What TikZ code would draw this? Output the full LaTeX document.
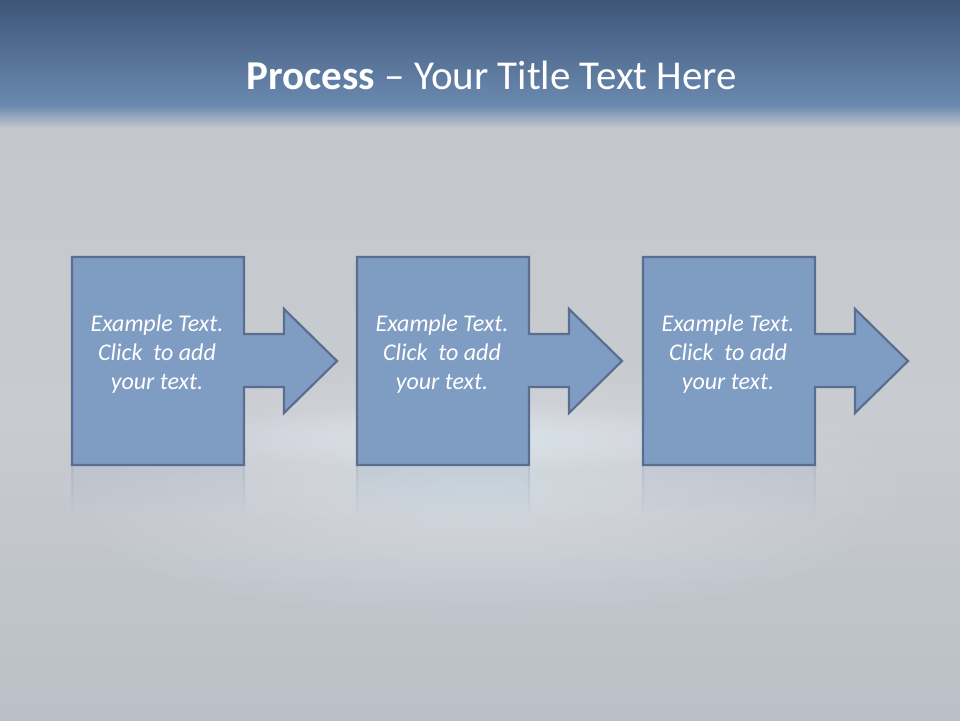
\documentclass[tikz,border=0pt]{standalone}
\usepackage{fontspec}
\setmainfont{Carlito}
\usetikzlibrary{fadings}
\definecolor{topdark}{HTML}{3E5678}
\definecolor{topband}{HTML}{6B89B0}
\definecolor{bggray}{HTML}{C4C7CB}
\definecolor{bgmid}{HTML}{C8CBCF}
\definecolor{bgbot}{HTML}{BAC0C7}
\definecolor{boxfill}{HTML}{7F9CC3}
\definecolor{boxline}{HTML}{5A6F8F}
\definecolor{glowblue}{HTML}{E6F0FC}
\pgfdeclareverticalshading{reflshade}{100bp}{color(0bp)=(transparent!100); color(62bp)=(transparent!100); color(100bp)=(transparent!55)}
\pgfdeclarefading{reflfade}{\pgfuseshading{reflshade}}
\tikzset{
  stepshape/.style={fill=boxfill, draw=boxline, line width=2.2pt, line join=miter},
  reflshape/.style={fill=boxfill, draw=boxline, line width=2.2pt, path fading=reflfade},
  steptext/.style={align=center, font=\fontsize{24}{29}\selectfont\itshape, text=white},
  glowlayer/.style={fill=glowblue, opacity=0.045},
}
\begin{document}
\begin{tikzpicture}[x=1pt,y=-1pt]
\useasboundingbox (0,0) rectangle (960,720);
% background
\shade[top color=topdark, bottom color=topband] (0,0) rectangle (960,106);
\shade[top color=topband, bottom color=bggray] (0,105.5) rectangle (960,128);
\shade[top color=bggray, bottom color=bgmid] (0,127.5) rectangle (960,420);
\shade[top color=bgmid, bottom color=bgbot] (0,419.5) rectangle (960,720);
% soft glow
\foreach \i in {1,...,16}{
  \fill[glowlayer] (480,490) ellipse ({26*\i} and {8*\i});
}
\foreach \i in {1,...,14}{
  \fill[glowlayer, opacity=0.06] (470,438) ellipse ({20*\i} and {2.4*\i});
}
% title
\node[text=white, font=\fontsize{41}{46}\selectfont] (title) at (492,75) {\textbf{Process} -- Your Title Text Here};
% steps
\foreach \dx/\n in {0/1,285/2,571/3}{
  \begin{scope}[xshift=\dx pt]
  \path[reflshape] (72,465) -- (244,465) -- (244,543) -- (284,543) -- (284,517) -- (337,569) -- (284,621) -- (284,596) -- (244,596) -- (244,673) -- (72,673) -- cycle;
  \path[stepshape] (72,257) -- (244,257) -- (244,334) -- (284,334) -- (284,309) -- (337,361) -- (284,413) -- (284,387) -- (244,387) -- (244,465) -- (72,465) -- cycle;
  \node[steptext] (step\n) at (157,354) {Example Text.\\Click\ \ to add\\your text.};
  \end{scope}
}
\end{tikzpicture}
\end{document}
